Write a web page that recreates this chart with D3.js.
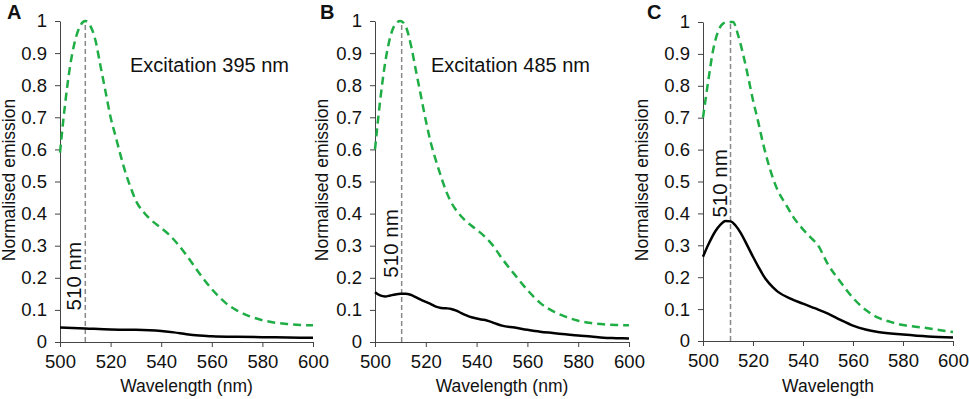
<!DOCTYPE html>
<html>
<head>
<meta charset="utf-8">
<script src="https://cdn.jsdelivr.net/npm/d3@7"></script>
<style>
  body { margin: 0; background: #fff; }
  text { font-family: "Liberation Sans", Arial, sans-serif; fill: #111; }
</style>
</head>
<body>
<svg width="969" height="399"></svg>
<script>
// wavelengths (nm) sampled along the curves
const greenNm = [500, 502, 504, 506, 508, 510, 512, 514, 516, 518, 520, 522, 524, 526, 528, 530, 533, 536, 540, 543, 546, 550, 555, 560, 565, 570, 575, 580, 585, 590, 595, 600];

// green dashed reference spectra
const greenA = [0.59, 0.74, 0.86, 0.94, 0.985, 1.0, 0.985, 0.94, 0.86, 0.78, 0.70, 0.64, 0.58, 0.525, 0.48, 0.44, 0.405, 0.38, 0.355, 0.335, 0.31, 0.27, 0.215, 0.165, 0.125, 0.098, 0.08, 0.068, 0.06, 0.056, 0.053, 0.052];
const greenB = [0.60, 0.75, 0.87, 0.95, 0.99, 1.0, 0.985, 0.93, 0.85, 0.77, 0.69, 0.62, 0.565, 0.515, 0.47, 0.435, 0.40, 0.375, 0.35, 0.33, 0.305, 0.26, 0.21, 0.162, 0.122, 0.096, 0.079, 0.066, 0.059, 0.055, 0.053, 0.052];
const greenC = [0.70, 0.81, 0.91, 0.97, 0.995, 1.0, 1.0, 0.96, 0.90, 0.83, 0.755, 0.69, 0.62, 0.56, 0.51, 0.47, 0.43, 0.39, 0.35, 0.325, 0.30, 0.24, 0.185, 0.135, 0.098, 0.073, 0.06, 0.05, 0.045, 0.04, 0.034, 0.028];

// black solid measured spectra
const blackNmA = [500, 510, 520, 530, 540, 545, 550, 555, 560, 570, 580, 590, 600];
const blackA = [0.045, 0.042, 0.039, 0.038, 0.034, 0.03, 0.024, 0.02, 0.018, 0.016, 0.015, 0.014, 0.013];

const blackNmB = [500, 502, 504, 506, 508, 510, 512, 514, 516, 518, 520, 522, 524, 526, 528, 530, 532, 534, 536, 538, 540, 542, 544, 546, 548, 550, 555, 560, 565, 570, 575, 580, 585, 590, 595, 600];
const blackB = [0.155, 0.145, 0.142, 0.145, 0.148, 0.15, 0.15, 0.147, 0.14, 0.132, 0.125, 0.118, 0.11, 0.106, 0.105, 0.103, 0.098, 0.09, 0.083, 0.077, 0.073, 0.07, 0.067, 0.062, 0.056, 0.051, 0.045, 0.038, 0.032, 0.028, 0.024, 0.02, 0.017, 0.013, 0.012, 0.011];

const blackNmC = [500, 502, 505, 507, 509, 511, 513, 515, 518, 520, 522, 525, 528, 530, 535, 540, 545, 550, 555, 560, 565, 570, 580, 590, 600];
const blackC = [0.264, 0.30, 0.345, 0.365, 0.376, 0.375, 0.362, 0.34, 0.295, 0.264, 0.235, 0.195, 0.168, 0.154, 0.133, 0.117, 0.102, 0.086, 0.066, 0.048, 0.036, 0.028, 0.02, 0.014, 0.011];

const xTicks = [500, 520, 540, 560, 580, 600];
const yTicks = [0, 0.1, 0.2, 0.3, 0.4, 0.5, 0.6, 0.7, 0.8, 0.9, 1];
const yTickLabels = ["0", "0.1", "0.2", "0.3", "0.4", "0.5", "0.6", "0.7", "0.8", "0.9", "1"];

const panelLetters = ["A", "B", "C"];
const xTitles = ["Wavelength (nm)", "Wavelength (nm)", "Wavelength"];
const excitationLabels = ["Excitation 395 nm", "Excitation 485 nm", ""];
const peakNm = [510, 510.5, 511];
const peakLabelY = [0.205, 0.307, 0.494];

const svg = d3.select("svg");

// расположение панелей
const panels = [
    {left: 60, right: 313, top: 21, bottom: 342, titleX: 15, letterX: 7,
     green: greenA, blackNm: blackNmA, black: blackA},
    {left: 375, right: 629, top: 21, bottom: 342, titleX: 328, letterX: 320,
     green: greenB, blackNm: blackNmB, black: blackB},
    {left: 703, right: 953, top: 22, bottom: 341, titleX: 648, letterX: 647,
     green: greenC, blackNm: blackNmC, black: blackC}
];

panels.forEach((p, i) => {
    const x = d3.scaleLinear().domain([500, 600]).range([p.left, p.right]);
    const y = d3.scaleLinear().domain([0, 1]).range([p.bottom, p.top]);
    const g = svg.append("g");

    // оси
    const xAxis = g.append("g")
        .attr("transform", `translate(0,${p.bottom})`)
        .call(d3.axisBottom(x).tickValues(xTicks).tickSize(5).tickSizeOuter(0).tickPadding(8));
    const yAxis = g.append("g")
        .attr("transform", `translate(${p.left},0)`)
        .call(d3.axisLeft(y).tickValues(yTicks).tickFormat((d, k) => yTickLabels[k])
            .tickSize(5).tickSizeOuter(0).tickPadding(8));
    [xAxis, yAxis].forEach(a => {
        a.select(".domain").attr("stroke", "#444");
        a.selectAll(".tick line").attr("stroke", "#444");
        a.selectAll(".tick text").style("font-size", "18.5px")
            .style("font-family", "'Liberation Sans', Arial, sans-serif").attr("fill", "#111");
    });

    // vertical dashed line at the peak
    g.append("line")
        .attr("x1", x(peakNm[i])).attr("x2", x(peakNm[i]))
        .attr("y1", y(0)).attr("y2", y(1))
        .attr("stroke", "#888").attr("stroke-width", 1.5)
        .attr("stroke-dasharray", "5,3");

    const line = d3.line()
        .x(d => x(d[0]))
        .y(d => y(d[1]))
        .curve(d3.curveMonotoneX);

    g.append("path")
        .attr("d", line(greenNm.map((d, k) => [d, p.green[k]])))
        .attr("fill", "none")
        .attr("stroke", "#1fad45")
        .attr("stroke-width", 2.5)
        .attr("stroke-dasharray", "8,5");

    g.append("path")
        .attr("d", line(p.blackNm.map((d, k) => [d, p.black[k]])))
        .attr("fill", "none")
        .attr("stroke", "#000")
        .attr("stroke-width", 2.5);

    // подписи
    g.append("text")
        .attr("transform", `translate(${x(peakNm[i]) - 4},${y(peakLabelY[i])}) rotate(-90)`)
        .attr("text-anchor", "middle")
        .style("font-size", "20.5px")
        .text("510 nm");

    if (excitationLabels[i]) {
        g.append("text")
            .attr("x", i === 0 ? 130 : 431).attr("y", 72)
            .style("font-size", "20px")
            .text(excitationLabels[i]);
    }

    g.append("text")
        .attr("x", (p.left + p.right) / 2).attr("y", 392)
        .attr("text-anchor", "middle")
        .style("font-size", "17.5px")
        .text(xTitles[i]);

    g.append("text")
        .attr("transform", `translate(${p.titleX},180) rotate(-90)`)
        .attr("text-anchor", "middle")
        .style("font-size", "17.5px")
        .text("Normalised emission");

    g.append("text")
        .attr("x", p.letterX).attr("y", 19)
        .style("font-size", "20px")
        .style("font-weight", "bold")
        .text(panelLetters[i]);
});
</script>
</body>
</html>
